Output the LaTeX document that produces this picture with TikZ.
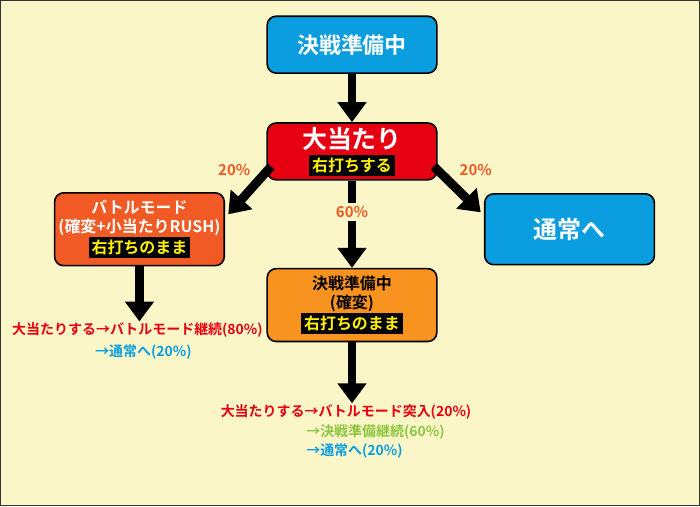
\documentclass[tikz,border=0pt]{standalone}
\usepackage{fontspec}
\setmainfont{Noto Sans CJK JP}[BoldFont={Noto Sans CJK JP Bold}]
\usetikzlibrary{arrows.meta}
\definecolor{bg}{HTML}{FAF6C8}
\definecolor{redbox}{HTML}{E60012}
\definecolor{orbox}{HTML}{F15A24}
\definecolor{ambox}{HTML}{F7931E}
\definecolor{bluebox}{HTML}{0A9EE0}
\definecolor{yl}{HTML}{FFF000}
\definecolor{grn}{HTML}{8CC63F}
\newcommand{\blk}[1]{\colorbox{black}{\textcolor{yl}{#1}}}
\begin{document}
\begin{tikzpicture}[x=1pt, y=-1pt, font=\bfseries,
		box_style/.style={rectangle,rounded corners=9pt,draw=black,line width=1.6pt,minimum width=170pt,align=center,inner sep=2pt},
		arr_style/.style={draw=black,line width=9pt,-{Triangle[width=28pt,length=20pt]}},
		line_style/.style={draw=black,line width=9pt},
		pct_style/.style={text=orbox,font=\bfseries\fontsize{15}{15}\selectfont},
		txt_style/.style={font=\bfseries\fontsize{14}{14}\selectfont,inner sep=1pt}]
		
		\draw[fill=bg,draw=black!80,line width=1.5pt] (0,0) rectangle (700,506);
		
		\node[box_style,fill=bluebox,minimum height=57pt,text=white,font=\bfseries\fontsize{22}{22}\selectfont] (top) at (352,44) {決戦準備中};
		\node[box_style,fill=redbox,minimum height=57pt,text=white,font=\bfseries\fontsize{25}{25}\selectfont,inner sep=0pt] (hit) at (352,151) {大当たり\\[-2pt]{\fontsize{16}{16}\selectfont\blk{右打ちする}}};
		\node[box_style,fill=orbox,minimum height=73pt,text=white,font=\bfseries\fontsize{16}{19}\selectfont,inner sep=0pt] (battle) at (139,229) {バトルモード\\(確変+小当たりRUSH)\\\blk{右打ちのまま}};
		\node[box_style,fill=bluebox,minimum height=71pt,text=white,font=\bfseries\fontsize{24}{24}\selectfont] (normal) at (570,229) {通常へ};
		\node[box_style,fill=ambox,minimum height=73pt,text=black,font=\bfseries\fontsize{16}{19}\selectfont,inner sep=0pt] (kak) at (352,305) {決戦準備中\\(確変)\\\blk{右打ちのまま}};
		
		\node[pct_style] (p20l) at (234,170) {20\%};
		\node[pct_style] (p20r) at (476,170) {20\%};
		\node[pct_style,inner sep=3pt] (p60) at (352,212) {60\%};
		
		\node[txt_style,text=redbox] (bt1) at (137,330) {大当たりする→バトルモード継続(80\%)};
		\node[txt_style,text=bluebox] (bt2) at (143,352) {→通常へ(20\%)};
		\node[txt_style,text=redbox] (kt1) at (346,412) {大当たりする→バトルモード突入(20\%)};
		\node[txt_style,text=grn,anchor=west] (kt2) at (305,432) {→決戦準備継続(60\%)};
		\node[txt_style,text=bluebox,anchor=west] (kt3) at (305,451) {→通常へ(20\%)};
		
		\coordinate (hl) at (271,166);
		\coordinate (bl) at (228,214);
		\coordinate (hr) at (434,166);
		\coordinate (nr) at (481,212);
		\draw[arr_style] (top) -- (hit);
		\draw[arr_style] (hl) -- (bl);
		\draw[arr_style] (hr) -- (nr);
		\draw[line_style] (hit) -- (p60);
		\draw[arr_style] (p60) -- (kak);
		\draw[arr_style] (battle.south) -- (bt1.north -| battle.south);
		\draw[arr_style] (kak.south) -- (kt1.north -| kak.south);
		
\end{tikzpicture}
\end{document}
